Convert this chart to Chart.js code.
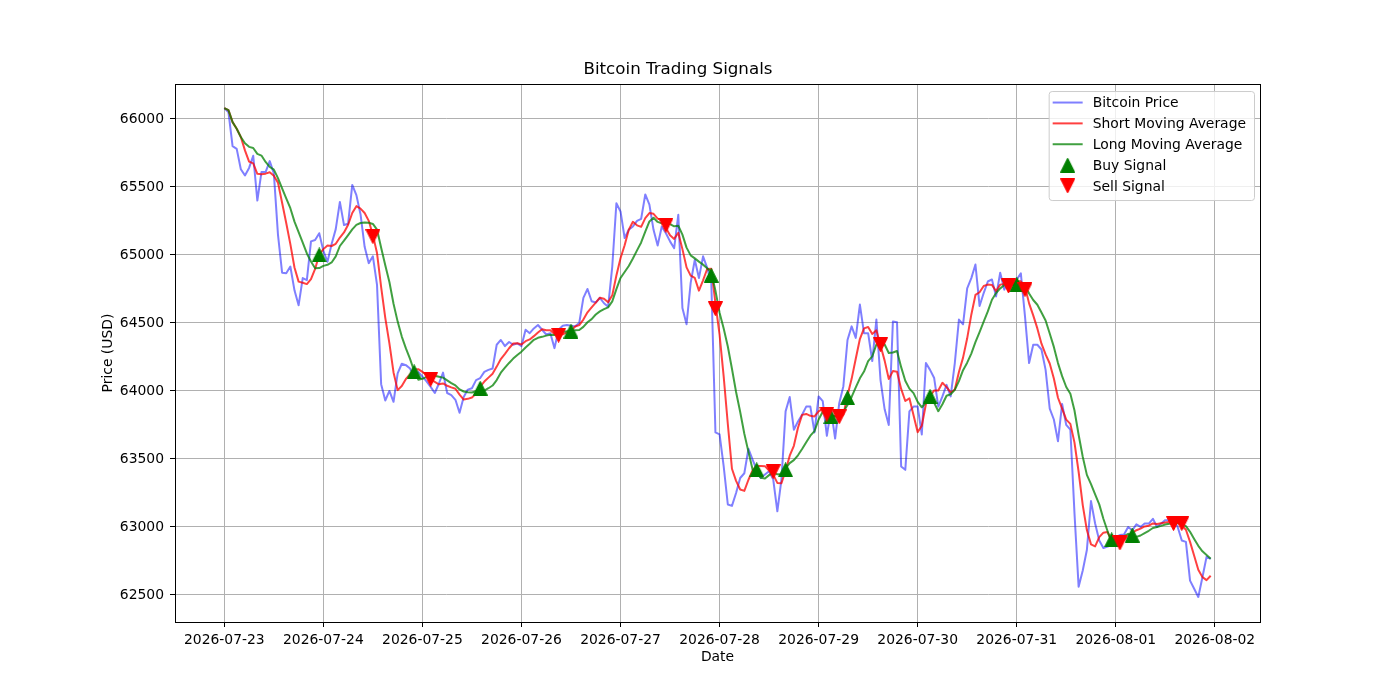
<!DOCTYPE html>
<html>
<head>
<meta charset="utf-8">
<title>Bitcoin Trading Signals</title>
<script src="https://cdn.jsdelivr.net/npm/chart.js@4.4.1/dist/chart.umd.min.js"></script>
<style>
  html, body { margin: 0; padding: 0; background: #ffffff; }
  #grafico { display: block; }
</style>
</head>
<body>
<canvas id="grafico" width="1400" height="700"></canvas>
<script>
// rótulos do eixo x (um por dia, a cada 24 horas)
const diasLabels = [
  "2026-07-23", "2026-07-24", "2026-07-25", "2026-07-26", "2026-07-27", "2026-07-28",
  "2026-07-29", "2026-07-30", "2026-07-31", "2026-08-01", "2026-08-02",
];
const yTicks = [62500, 63000, 63500, 64000, 64500, 65000, 65500, 66000];

// preço horário, começando em 2026-07-23 00:00
const preco = [
  66080, 66050, 65800, 65780, 65630, 65585, 65640, 65730, 65400, 65610,
  65610, 65690, 65600, 65150, 64870, 64865, 64915, 64740, 64630, 64830,
  64815, 65100, 65110, 65160, 65030, 64950, 65080, 65190, 65390, 65220,
  65230, 65515, 65440, 65300, 65060, 64940, 64990, 64780, 64050, 63930,
  64000, 63920, 64130, 64200, 64190, 64165, 64105, 64140, 64105, 64070,
  64030, 63985, 64055, 64135, 63985, 63970, 63935, 63840, 63955, 64010,
  64020, 64080, 64095, 64140, 64155, 64165, 64340, 64375, 64330, 64360,
  64340, 64350, 64330, 64450, 64425, 64460, 64485, 64450, 64415, 64425,
  64315, 64450, 64480, 64485, 64480, 64475, 64500, 64685, 64750, 64660,
  64650, 64685, 64645, 64620, 64915, 65380, 65320, 65125, 65185, 65210,
  65250, 65265, 65445, 65370, 65185, 65070, 65210, 65160, 65100, 65050,
  65295, 64610, 64490, 64795, 64965, 64830, 64990, 64905, 64800, 63695,
  63680, 63445, 63165, 63155, 63250, 63360, 63395, 63575, 63495, 63420,
  63360, 63385, 63410, 63350, 63115, 63350, 63850, 63955, 63715, 63775,
  63825, 63885, 63885, 63695, 63960, 63925, 63670, 63865, 63650, 63910,
  64035, 64375, 64475, 64390, 64635, 64425, 64425, 64220, 64525, 64080,
  63865, 63750, 64510, 64505, 63445, 63420, 63850, 63885, 63885, 63680,
  64205, 64155, 64095, 63885, 63960, 64045, 63960, 64205, 64525, 64490,
  64755, 64830, 64930, 64625, 64720, 64805, 64820, 64695, 64870, 64745,
  64820, 64780, 64820, 64865, 64550, 64205, 64340, 64340, 64305, 64155,
  63870, 63790, 63630, 63905, 63750, 63715, 63100, 62560, 62680, 62830,
  63190, 63025, 62900, 62845, 62855, 62865, 62925, 62940, 62945, 63000,
  62975, 63020, 63000, 63025, 63025, 63060, 63000, 63025, 63050, 63050,
  63055, 63000, 62900, 62890, 62605, 62545, 62485, 62630, 62780, 62765,
];

const mediaCurta = [
  66080, 66065, 65977, 65928, 65868, 65769, 65687, 65673, 65597, 65593,
  65598, 65608, 65582, 65532, 65384, 65235, 65080, 64908, 64804, 64796,
  64786, 64823, 64897, 65003, 65043, 65070, 65066, 65082, 65128, 65166,
  65222, 65309, 65359, 65341, 65309, 65251, 65146, 65014, 64764, 64538,
  64350, 64136, 64006, 64036, 64088, 64121, 64158, 64160, 64141, 64117,
  64090, 64066, 64049, 64055, 64038, 64026, 64016, 63973, 63937, 63942,
  63952, 63981, 64032, 64069, 64098, 64127, 64179, 64235, 64273, 64314,
  64349, 64351, 64342, 64366, 64379, 64403, 64430, 64454, 64447, 64447,
  64418, 64411, 64417, 64431, 64442, 64474, 64484, 64525, 64578, 64614,
  64649, 64686, 64678, 64652, 64703, 64849, 64976, 65072, 65185, 65244,
  65218, 65207, 65271, 65308, 65303, 65267, 65256, 65199, 65145, 65118,
  65163, 65043, 64909, 64848, 64831, 64738, 64814, 64897, 64898, 64644,
  64414, 64105, 63757, 63428, 63339, 63275, 63265, 63347, 63415, 63449,
  63449, 63447, 63414, 63385, 63324, 63322, 63415, 63524, 63597, 63729,
  63824, 63831, 63817, 63813, 63850, 63870, 63827, 63823, 63814, 63804,
  63826, 63967, 64089, 64237, 64382, 64460, 64470, 64419, 64446, 64335,
  64223, 64088, 64146, 64142, 64015, 63926, 63946, 63821, 63697, 63744,
  63901, 63962, 64004, 64004, 64060, 64028, 63989, 64011, 64139, 64245,
  64387, 64561, 64706, 64726, 64772, 64782, 64780, 64733, 64782, 64787,
  64790, 64782, 64807, 64806, 64767, 64644, 64556, 64460, 64348, 64269,
  64202, 64092, 63950, 63870, 63789, 63758, 63620, 63406, 63161, 62977,
  62872, 62857, 62925, 62958, 62963, 62898, 62878, 62886, 62906, 62935,
  62957, 62976, 62988, 63004, 63009, 63026, 63022, 63027, 63032, 63037,
  63036, 63036, 63011, 62979, 62890, 62788, 62685, 62631, 62609, 62641,
];

const mediaLonga = [
  66080, 66065, 65977, 65928, 65868, 65821, 65795, 65787, 65744, 65731,
  65684, 65648, 65628, 65565, 65489, 65417, 65344, 65245, 65168, 65090,
  65011, 64952, 64903, 64904, 64920, 64928, 64945, 64990, 65066, 65105,
  65146, 65188, 65221, 65235, 65238, 65237, 65228, 65187, 65053, 64924,
  64801, 64641, 64510, 64400, 64313, 64236, 64147, 64083, 64089, 64103,
  64106, 64112, 64105, 64098, 64078, 64058, 64041, 64011, 63996, 63990,
  63989, 63999, 64003, 64003, 64020, 64040, 64080, 64134, 64171, 64206,
  64238, 64265, 64289, 64320, 64347, 64376, 64391, 64398, 64407, 64413,
  64411, 64421, 64436, 64439, 64445, 64446, 64448, 64471, 64505, 64528,
  64562, 64585, 64602, 64615, 64659, 64749, 64831, 64875, 64919, 64974,
  65034, 65092, 65172, 65247, 65274, 65243, 65232, 65235, 65227, 65211,
  65215, 65150, 65054, 64997, 64975, 64951, 64929, 64903, 64873, 64738,
  64576, 64460, 64327, 64163, 63992, 63845, 63685, 63552, 63422, 63394,
  63362, 63356, 63381, 63400, 63387, 63386, 63431, 63469, 63491, 63527,
  63573, 63623, 63671, 63705, 63790, 63847, 63829, 63820, 63814, 63827,
  63848, 63897, 63956, 64026, 64093, 64143, 64219, 64254, 64342, 64359,
  64342, 64279, 64283, 64294, 64175, 64075, 64017, 63984, 63920, 63880,
  63914, 63954, 63913, 63851, 63902, 63965, 63976, 64008, 64072, 64153,
  64208, 64275, 64359, 64433, 64509, 64585, 64671, 64720, 64754, 64780,
  64786, 64781, 64770, 64794, 64777, 64717, 64669, 64634, 64577, 64518,
  64423, 64324, 64205, 64109, 64029, 63980, 63856, 63678, 63516, 63383,
  63315, 63239, 63166, 63060, 62970, 62885, 62868, 62906, 62932, 62949,
  62928, 62927, 62937, 62955, 62972, 62992, 62999, 63008, 63018, 63023,
  63031, 63029, 63019, 63006, 62964, 62912, 62861, 62821, 62794, 62766,
];

// sinais (hora desde o início, preço)
const compraHoras = [23, 46, 62, 84, 118, 129, 136, 147, 151, 171, 192, 215, 220];
const compraPrecos = [65000, 64140, 64020, 64440, 64850, 63420, 63420, 63810, 63950, 63960, 64785, 62905, 62940];
const vendaHoras = [36, 50, 81, 107, 119, 133, 146, 149, 159, 190, 194, 217, 230, 232];
const vendaPrecos = [65135, 64086, 64410, 65218, 64605, 63406, 63830, 63810, 64340, 64772, 64745, 62882, 63025, 63025];

function pontos(xs, ys) {
  const lista = [];
  for (let i = 0; i < ys.length; i++) {
    lista.push({ x: xs[i], y: ys[i] });
  }
  return lista;
}

const horas = preco.map((_, i) => i);

// triangulo no formato do matplotlib (mesma largura e altura)
function criarTriangulo(cor, paraCima) {
  const c = document.createElement("canvas");
  c.width = 15;
  c.height = 15;
  const g = c.getContext("2d");
  g.fillStyle = cor;
  g.strokeStyle = cor;
  g.lineWidth = 1;
  g.beginPath();
  if (paraCima) {
    g.moveTo(7.5, 0.5);
    g.lineTo(14.5, 14.5);
    g.lineTo(0.5, 14.5);
  } else {
    g.moveTo(0.5, 0.5);
    g.lineTo(14.5, 0.5);
    g.lineTo(7.5, 14.5);
  }
  g.closePath();
  g.fill();
  g.stroke();
  return c;
}

const trianguloCompra = criarTriangulo("#008000", true);
const trianguloVenda = criarTriangulo("#ff0000", false);

const fonte = '"DejaVu Sans", sans-serif';
Chart.defaults.font.family = fonte;
Chart.defaults.color = "#000000";

// moldura em volta da área do gráfico
const moldura = {
  id: "moldura",
  afterDatasetsDraw(chart) {
    const { ctx, chartArea } = chart;
    ctx.save();
    ctx.strokeStyle = "#000000";
    ctx.lineWidth = 1;
    ctx.strokeRect(
      Math.round(chart.chartArea.left) + 0.5,
      Math.round(chartArea.top) + 0.5,
      Math.round(chartArea.right - chartArea.left),
      Math.round(chartArea.bottom - chartArea.top)
    );
    ctx.restore();
  },
};

// legenda dentro do gráfico, canto superior direito
const legendaInterna = {
  id: "legendaInterna",
  afterDraw(chart) {
    const { ctx, chartArea } = chart;
    const datasets = chart.data.datasets;
    ctx.save();
    ctx.font = "13.9px " + fonte;
    let maior = 0;
    for (const ds of datasets) {
      maior = Math.max(maior, ctx.measureText(ds.label).width);
    }
    const largura = 44 + maior + 8;
    const altura = 109;
    const direita = chartArea.right - 6;
    const esquerda = direita - largura;
    const topo = chartArea.top + 7;

    ctx.beginPath();
    ctx.roundRect(esquerda + 0.5, topo + 0.5, largura, altura, 3);
    ctx.fillStyle = "rgba(255, 255, 255, 0.8)";
    ctx.fill();
    ctx.strokeStyle = "#cccccc";
    ctx.lineWidth = 1;
    ctx.stroke();

    for (let i = 0; i < datasets.length; i++) {
      const ds = datasets[i];
      const y = topo + 11.5 + i * 20.85;
      if (ds.showLine === false) {
        const img = ds.pointStyle;
        ctx.drawImage(img, esquerda + 19 - img.width / 2, y - img.height / 2);
      } else {
        ctx.strokeStyle = ds.borderColor;
        ctx.lineWidth = 2;
        ctx.beginPath();
        ctx.moveTo(esquerda + 4, y);
        ctx.lineTo(esquerda + 34, y);
        ctx.stroke();
      }
      ctx.fillStyle = "#000000";
      ctx.textBaseline = "middle";
      ctx.textAlign = "left";
      ctx.fillText(ds.label, esquerda + 44, y + 1);
    }
    ctx.restore();
  },
};

const config = {
  type: "line",
  data: {
    datasets: [
      {
        label: "Bitcoin Price",
        data: pontos(horas, preco),
        borderColor: "rgba(0, 0, 255, 0.5)",
        borderWidth: 2,
        pointRadius: 0,
        borderJoinStyle: "round",
        order: 5,
      },
      {
        label: "Short Moving Average",
        data: pontos(horas, mediaCurta),
        borderColor: "rgba(255, 0, 0, 0.75)",
        borderWidth: 2,
        pointRadius: 0,
        borderJoinStyle: "round",
        order: 4,
      },
      {
        label: "Long Moving Average",
        data: pontos(horas, mediaLonga),
        borderColor: "rgba(0, 128, 0, 0.75)",
        borderWidth: 2,
        pointRadius: 0,
        borderJoinStyle: "round",
        order: 3,
      },
      {
        label: "Buy Signal",
        data: pontos(compraHoras, compraPrecos),
        showLine: false,
        pointStyle: trianguloCompra,
        pointRadius: 7,
        order: 2,
      },
      {
        label: "Sell Signal",
        data: pontos(vendaHoras, vendaPrecos),
        showLine: false,
        pointStyle: trianguloVenda,
        pointRadius: 7,
        order: 1,
      },
    ],
  },
  options: {
    responsive: false,
    devicePixelRatio: 1,
    animation: false,
    layout: {
      padding: { left: 96, right: 140, top: 0, bottom: 30 },
    },
    scales: {
      x: {
        type: "linear",
        min: -11.95,
        max: 250.95,
        afterBuildTicks: (scale) => {
          scale.ticks = diasLabels.map((_, k) => ({ value: k * 24 }));
        },
        afterFit: (scale) => {
          scale.height = 48;
        },
        ticks: {
          autoSkip: false,
          maxRotation: 0,
          padding: 5,
          font: { size: 13.9 },
          color: "#000000",
          callback: (value) => diasLabels[Math.round(value / 24)],
        },
        grid: {
          color: "#b0b0b0",
          lineWidth: 1,
          tickLength: 5,
          tickColor: "#000000",
          tickWidth: 1,
        },
        border: { display: false },
        title: {
          display: true,
          text: "Date",
          font: { size: 13.9 },
          color: "#000000",
        },
      },
      y: {
        type: "linear",
        min: 62301,
        max: 66257,
        afterBuildTicks: (scale) => {
          scale.ticks = yTicks.map((v) => ({ value: v }));
        },
        afterFit: (scale) => {
          scale.width = 79;
        },
        ticks: {
          padding: 6,
          font: { size: 13.9 },
          color: "#000000",
          callback: (value) => String(value),
        },
        grid: {
          color: "#b0b0b0",
          lineWidth: 1,
          tickLength: 5,
          tickColor: "#000000",
          tickWidth: 1,
        },
        border: { display: false },
        title: {
          display: true,
          text: "Price (USD)",
          font: { size: 13.9 },
          color: "#000000",
        },
      },
    },
    plugins: {
      legend: { display: false },
      tooltip: { enabled: false },
      title: {
        display: true,
        text: "Bitcoin Trading Signals",
        font: { size: 16.7, weight: "normal" },
        color: "#000000",
        padding: { top: 59.5, bottom: 4.5 },
      },
    },
  },
  plugins: [moldura, legendaInterna],
};

new Chart(document.getElementById("grafico"), config);
</script>
</body>
</html>
